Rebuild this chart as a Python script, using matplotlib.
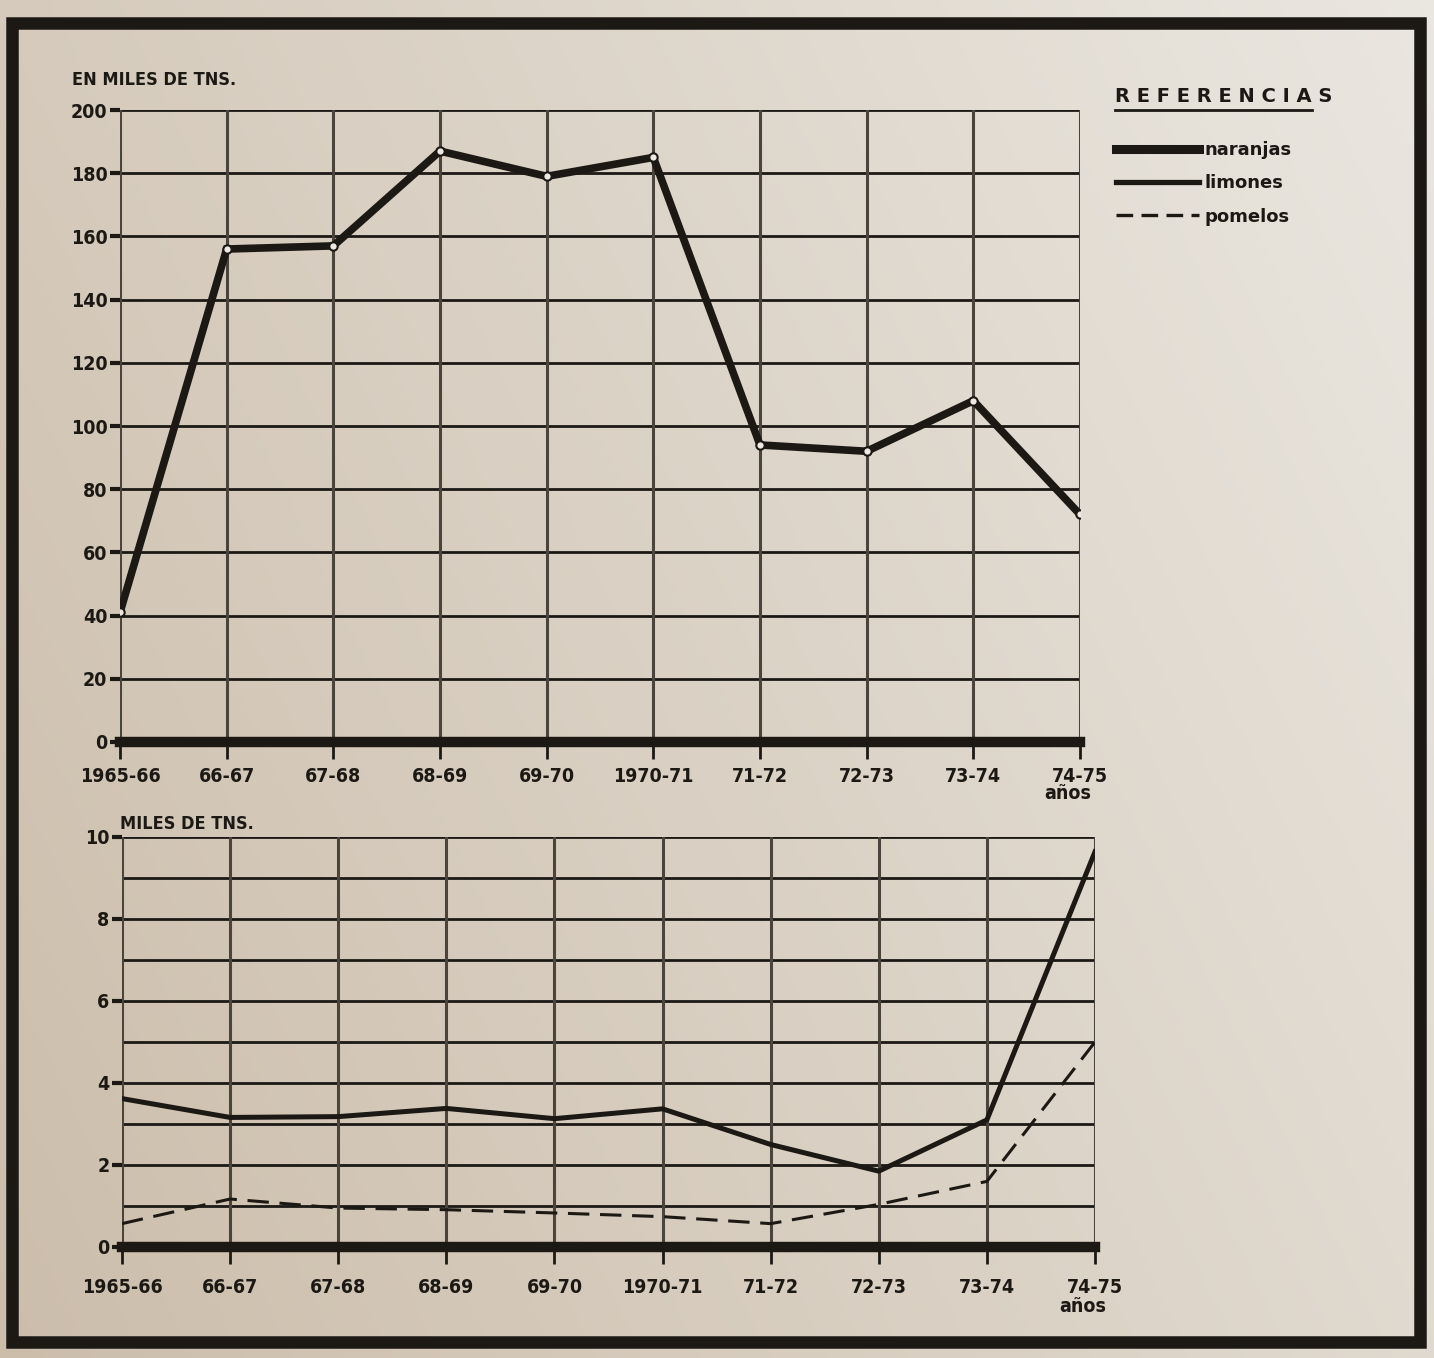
import numpy as np
import matplotlib
matplotlib.use("Agg")
import matplotlib.pyplot as plt
from matplotlib.lines import Line2D
from matplotlib.patches import Rectangle

# ---- data ----
seasons = ["1965-66", "66-67", "67-68", "68-69", "69-70", "1970-71",
           "71-72", "72-73", "73-74", "74-75"]
naranjas = [41, 156, 157, 187, 179, 185, 94, 92, 108, 72]
limones = [3.62, 3.16, 3.18, 3.38, 3.13, 3.37, 2.5, 1.85, 3.1, 9.64]
pomelos = [0.57, 1.17, 0.95, 0.91, 0.83, 0.74, 0.57, 1.04, 1.6, 5.0]
top_yticks = [0, 20, 40, 60, 80, 100, 120, 140, 160, 180, 200]
bot_yticks = [0, 2, 4, 6, 8, 10]
bot_ygrid = [0, 1, 2, 3, 4, 5, 6, 7, 8, 9, 10]

INK = "#1c1915"
GRIDV = "#4a443d"
plt.rcParams["font.family"] = ["DejaVu Sans"]
plt.rcParams["font.weight"] = "bold"
plt.rcParams["font.stretch"] = "condensed"

fig = plt.figure(figsize=(14.34, 13.58), dpi=100)
W, H = 1434, 1358

# paper background (gradient)
bg = fig.add_axes([0, 0, 1, 1], zorder=-10)
gx = np.linspace(0, 1, 300)
gy = np.linspace(0, 1, 300)
GX, GY = np.meshgrid(gx, gy)
t = np.clip(0.55 * GX + 0.25 * (1 - GY) + 0.1, 0, 1)
c0 = np.array([200, 184, 164]) / 255
c1 = np.array([238, 236, 231]) / 255
img = c0[None, None, :] * (1 - t[..., None]) + c1[None, None, :] * t[..., None]
bg.imshow(img, extent=[0, 1, 0, 1], aspect="auto", origin="upper")
bg.set_axis_off()

# frame
fig.add_artist(Rectangle((12 / W, 1 - 1342 / H), (1420 - 12) / W, (1342 - 23) / H,
                         fill=False, lw=9, edgecolor=INK, transform=fig.transFigure))

x = np.arange(len(seasons))


def style_axes(ax, ymax, yticks, ygrid, labelpad):
    ax.set_facecolor("none")
    ax.set_xlim(0, len(seasons) - 1)
    ax.set_ylim(0, ymax)
    for s in ax.spines.values():
        s.set_visible(False)
    for yv in ygrid:
        if yv == 0:
            continue
        ax.axhline(yv, color=INK, lw=2.0, zorder=1)
    for xv in x:
        ax.axvline(xv, color=GRIDV, lw=2.2, zorder=1)
    ax.axhline(0, color=INK, lw=7.5, zorder=3, clip_on=False)
    ax.set_xticks(x)
    ax.set_xticklabels(seasons)
    ax.set_yticks(yticks)
    ax.set_yticklabels([str(v) for v in yticks])
    ax.tick_params(axis="x", direction="out", length=12, width=2, color=INK,
                   pad=labelpad, labelsize=14, labelcolor=INK)
    ax.tick_params(axis="y", direction="out", length=7, width=3, color=INK,
                   pad=2, labelsize=14, labelcolor=INK)
    for lbl in ax.get_xticklabels() + ax.get_yticklabels():
        lbl.set_fontweight("bold")
        lbl.set_fontstretch("condensed")


# ---- top chart: naranjas ----
ax1 = fig.add_axes([120 / W, 1 - 742 / H, 960 / W, 632 / H])
style_axes(ax1, 200, top_yticks, top_yticks, 6)
l_nar, = ax1.plot(x, naranjas, color=INK, lw=5.5, zorder=5, solid_joinstyle="miter",
                  marker="o", markersize=6, markerfacecolor="#eeeae2",
                  markeredgecolor=INK, markeredgewidth=1.5, label="naranjas")
ax1.annotate("EN MILES DE TNS.", xy=(0, 1), xycoords="axes fraction",
             xytext=(-48, 30), textcoords="offset pixels", ha="left", va="center",
             fontsize=13, fontweight="bold", color=INK)
ax1.annotate("años", xy=(1, 0), xycoords="axes fraction",
             xytext=(-12, -52), textcoords="offset pixels", ha="center", va="center",
             fontsize=14, fontweight="bold", color=INK)

# ---- bottom chart: limones, pomelos ----
ax2 = fig.add_axes([122 / W, 1 - 1247 / H, 973 / W, 410 / H])
style_axes(ax2, 10, bot_yticks, bot_ygrid, 10)
l_lim, = ax2.plot(x, limones, color=INK, lw=3.6, zorder=5, label="limones")
l_pom, = ax2.plot(x, pomelos, color=INK, lw=2.2, zorder=5, dashes=[7, 3.5],
                  label="pomelos")
ax2.annotate("MILES DE TNS.", xy=(0, 1), xycoords="axes fraction",
             xytext=(-2, 4), textcoords="offset pixels", ha="left", va="bottom",
             fontsize=13, fontweight="bold", color=INK)
ax2.annotate("años", xy=(1, 0), xycoords="axes fraction",
             xytext=(-12, -60), textcoords="offset pixels", ha="center", va="center",
             fontsize=14, fontweight="bold", color=INK)

# ---- legend ----
fig.text(1115 / W, 1 - 97 / H, "R E F E R E N C I A S", ha="left", va="center",
         fontsize=14, fontweight="bold", color=INK, fontstretch="normal")
fig.add_artist(Line2D([1115 / W, 1312 / W], [1 - 110 / H, 1 - 110 / H],
                      color=INK, lw=2, transform=fig.transFigure))
h_nar = Line2D([], [], color=INK, lw=6.5)
h_lim = Line2D([], [], color=INK, lw=3.8)
h_pom = Line2D([], [], color=INK, lw=2.4, dashes=[5, 2.5])
leg = fig.legend([h_nar, h_lim, h_pom], ["naranjas", "limones", "pomelos"],
                 loc="upper left", bbox_to_anchor=(1116 / W, 1 - 141 / H),
                 frameon=False, handlelength=4.6, handletextpad=0.3,
                 labelspacing=0.85, borderpad=0, borderaxespad=0,
                 prop={"weight": "bold", "size": 13, "stretch": "normal"})
for txt in leg.get_texts():
    txt.set_color(INK)

fig.savefig("out.png", dpi=100)
